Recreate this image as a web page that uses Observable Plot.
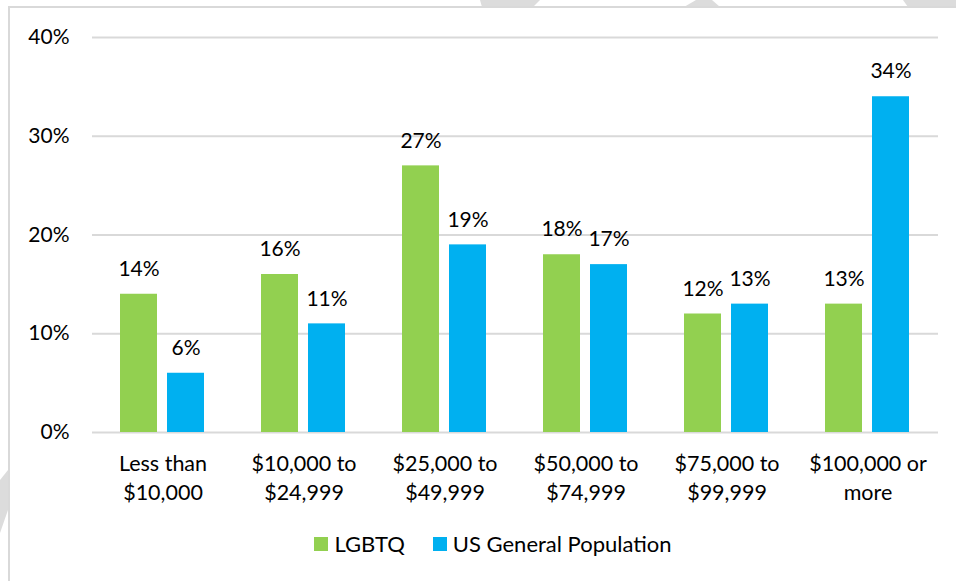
<!DOCTYPE html>
<html>
<head>
<meta charset="utf-8">
<script src="https://cdn.jsdelivr.net/npm/d3@7"></script>
<script src="https://cdn.jsdelivr.net/npm/@observablehq/plot@0.6"></script>
<style>
  html, body { margin: 0; padding: 0; background: #fff; }
  body { width: 956px; height: 581px; position: relative; overflow: hidden; font-family: Lato, "Noto Sans", sans-serif; }
  #deco { position: absolute; left: 0; top: 0; }
  #frame { position: absolute; left: 8px; top: 6px; width: 960px; height: 600px; border-left: 2px solid #d9d9d9; border-top: 2px solid #d9d9d9; }
  #chart { position: absolute; left: 0; top: 0; }
  #legend { position: absolute; left: 0; top: 530px; width: 986px; display: flex; justify-content: center; align-items: center; font-size: 22px; color: #000; }
  .item { display: flex; align-items: center; margin: 0 14px; }
  .sw { width: 14px; height: 14px; margin-right: 6px; }
</style>
</head>
<body>
<svg id="deco" width="956" height="581">
  <polygon points="480,0 540,0 533,7 482,7" fill="#dcdcdc"/>
  <polygon points="696,0 712,0 720,7 684,7" fill="#dcdcdc"/>
  <polygon points="903,0 956,0 956,7 908,7" fill="#dcdcdc"/>
  <polygon points="0,480 8,470 8,510 0,533" fill="#dcdcdc"/>
</svg>
<div id="frame"></div>
<div id="chart"></div>
<div id="legend"></div>
<script>
const categories = ["Less than\n$10,000", "$10,000 to\n$24,999", "$25,000 to\n$49,999", "$50,000 to\n$74,999", "$75,000 to\n$99,999", "$100,000 or\nmore"];
const series = ["LGBTQ", "US General Population"];
const lgbtq = [0.14, 0.16, 0.27, 0.18, 0.12, 0.13];
const usGeneral = [0.06, 0.11, 0.19, 0.17, 0.13, 0.34];
const colors = ["#92d050", "#00b0f0"];
const yTicks = [0, 0.1, 0.2, 0.3, 0.4];

const data = [];
categories.forEach((c, i) => {
  data.push({category: c, series: series[0], value: lgbtq[i]});
  data.push({category: c, series: series[1], value: usGeneral[i]});
});

const pct = d3.format(".0%");
const FS = 21;

const chart = Plot.plot({
  width: 956,
  height: 510,
  marginTop: 37,
  marginBottom: 78,
  marginLeft: 90,
  marginRight: 16,
  style: {fontFamily: "Lato, 'Noto Sans', sans-serif", background: "transparent", color: "#000"},
  fx: {domain: categories, padding: 0},
  x: {domain: series, paddingInner: 0.208, paddingOuter: 0.58, axis: null},
  y: {domain: [0, 0.4]},
  color: {domain: series, range: colors},
  marks: [
    Plot.gridY(yTicks, {stroke: "#d9d9d9", strokeOpacity: 1, strokeWidth: 2}),
    Plot.axisY(yTicks, {tickSize: 0, tickPadding: 23, tickFormat: pct, fontSize: FS, fill: "#000", label: null}),
    Plot.axisFx({anchor: "bottom", tickSize: 0, tickPadding: 18, fontSize: 21.5, lineHeight: 1.34, fill: "#000", label: null}),
    Plot.barY(data, {fx: "category", x: "series", y: "value", fill: "series"}),
    Plot.text(data, {fx: "category", x: "series", y: "value", text: d => pct(d.value), dy: -25, fontSize: FS, fill: "#000"})
  ]
});
document.getElementById("chart").appendChild(chart);

const legend = document.getElementById("legend");
series.forEach((s, i) => {
  const item = document.createElement("div");
  item.className = "item";
  const sw = document.createElement("div");
  sw.className = "sw";
  sw.style.background = colors[i];
  const label = document.createElement("span");
  label.textContent = s;
  item.appendChild(sw);
  item.appendChild(label);
  legend.appendChild(item);
});
</script>
</body>
</html>
